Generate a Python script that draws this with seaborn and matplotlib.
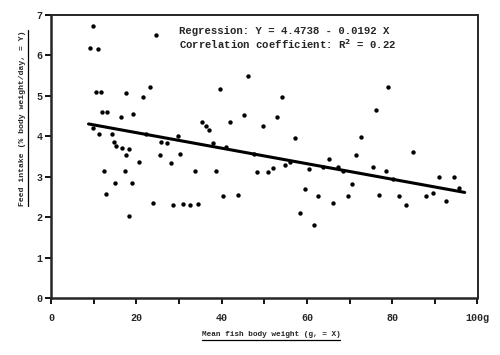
import numpy as np
import pandas as pd
import seaborn as sns
import matplotlib.pyplot as plt
from matplotlib.lines import Line2D

# mean fish body weight (g) and feed intake (% body weight/day)
weight = [9.8, 9.2, 11.0, 24.7, 10.5, 11.8, 17.6, 23.3, 21.5, 11.9,
          13.2, 16.4, 19.3, 9.8, 11.2, 14.3, 22.3, 29.8, 14.7, 15.3,
          16.6, 18.4, 25.7, 27.2, 17.6, 25.5, 30.3, 20.6, 28.1, 12.4,
          17.3, 33.7, 15.0, 18.9, 12.9, 24.0, 28.6, 31.0, 32.7, 34.4,
          18.2, 46.2, 39.6, 54.1, 45.2, 53.0, 35.4, 41.9, 36.4, 49.6,
          37.0, 57.3, 38.0, 41.0, 47.6, 65.1, 56.0, 54.8, 67.3, 60.4,
          63.7, 68.5, 52.0, 38.7, 48.3, 50.9, 59.6, 40.3, 43.9, 62.6,
          69.6, 66.1, 58.4, 61.6, 79.0, 76.2, 72.8, 84.9, 71.6, 75.5,
          78.6, 91.0, 94.4, 70.5, 95.6, 80.1, 76.9, 81.7, 88.0, 89.5,
          83.3, 92.6]
intake = [6.72, 6.19, 6.17, 6.51, 5.09, 5.09, 5.07, 5.21, 4.97, 4.59,
          4.59, 4.48, 4.55, 4.21, 4.05, 4.05, 4.05, 4.00, 3.87, 3.75,
          3.72, 3.68, 3.87, 3.84, 3.53, 3.53, 3.55, 3.37, 3.35, 3.14,
          3.14, 3.13, 2.85, 2.85, 2.57, 2.34, 2.31, 2.33, 2.31, 2.32,
          2.03, 5.50, 5.17, 4.98, 4.53, 4.47, 4.36, 4.36, 4.26, 4.26,
          4.16, 3.95, 3.84, 3.74, 3.56, 3.43, 3.37, 3.30, 3.25, 3.20,
          3.24, 3.15, 3.22, 3.15, 3.12, 3.12, 2.70, 2.53, 2.55, 2.53,
          2.53, 2.34, 2.11, 1.81, 5.21, 4.65, 3.97, 3.62, 3.54, 3.24,
          3.15, 3.00, 3.00, 2.82, 2.73, 2.94, 2.54, 2.53, 2.53, 2.60,
          2.31, 2.41]

# regression reported on the chart
intercept = 4.4738
slope = -0.0192
fit_range = [8.8, 97.0]

x_ticks = [0, 20, 40, 60, 80, 100]
x_labels = ["0", "20", "40", "60", "80", "100g"]
y_ticks = [0, 1, 2, 3, 4, 5, 6, 7]

df = pd.DataFrame({"weight": weight, "intake": intake})
fit = pd.DataFrame({"weight": fit_range})
fit["intake"] = intercept + slope * fit["weight"]

sns.set_style("ticks")
plt.rcParams["font.family"] = ["Liberation Mono", "DejaVu Sans Mono"]
plt.rcParams["font.weight"] = "bold"

fig = plt.figure(figsize=(5, 3.55), dpi=100)
ax = fig.add_axes([0.102, 0.1606, 0.853, 0.7972])

sns.scatterplot(data=df, x="weight", y="intake", ax=ax, color="black",
                s=10, linewidth=0, legend=False)
sns.lineplot(data=fit, x="weight", y="intake", ax=ax, color="black",
             linewidth=2.2)

ax.set_xlim(0, 100)
ax.set_ylim(0, 7)
ax.set_xticks(x_ticks)
ax.set_xticklabels(x_labels)
ax.set_xticks(np.arange(10, 100, 20), minor=True)
ax.set_yticks(y_ticks)
ax.tick_params(axis="both", which="both", direction="out", length=4,
               width=1.3, color="black", labelsize=7.2, pad=2)
ax.tick_params(axis="x", which="both", pad=7)
for side in ["left", "bottom"]:
    ax.spines[side].set_linewidth(1.8)
for side in ["top", "right"]:
    ax.spines[side].set_linewidth(1.4)
ax.spines["top"].set_visible(True)
ax.spines["right"].set_visible(True)

ax.set_xlabel("")
ax.set_ylabel("")

ax.text(30, 6.6, "Regression: Y = 4.4738 - 0.0192 X", fontsize=7.7,
        fontweight="bold", va="center", ha="left")
ax.text(30, 6.27, "Correlation coefficient: R$^{\\mathbf{2}}$ = 0.22",
        fontsize=7.7, fontweight="bold", va="center", ha="left")

xlab = fig.text(0.542, 1 - 335 / 355, "Mean fish body weight (g, = X)",
                fontsize=5.6, fontweight="bold", ha="center", va="center")
ylab = fig.text(0.046, 1 - 118 / 355, "Feed intake (% body weight/day, = Y)",
                fontsize=5.9, fontweight="bold", ha="center", va="center",
                rotation=90)

# underline the axis titles like the typed original
fig.canvas.draw()
r = fig.canvas.get_renderer()
inv = fig.transFigure.inverted()
bb = xlab.get_window_extent(r)
(x0, y0), (x1, _) = inv.transform([(bb.x0, bb.y0 - 1.5), (bb.x1, bb.y0)])
fig.add_artist(Line2D([x0, x1], [y0, y0], color="black", linewidth=0.9))
bb = ylab.get_window_extent(r)
(x0, y0), (_, y1) = inv.transform([(bb.x1 + 1.5, bb.y0), (bb.x1, bb.y1)])
fig.add_artist(Line2D([x0, x0], [y0, y1], color="black", linewidth=0.9))

fig.savefig("out.png", dpi=100)
plt.close(fig)
